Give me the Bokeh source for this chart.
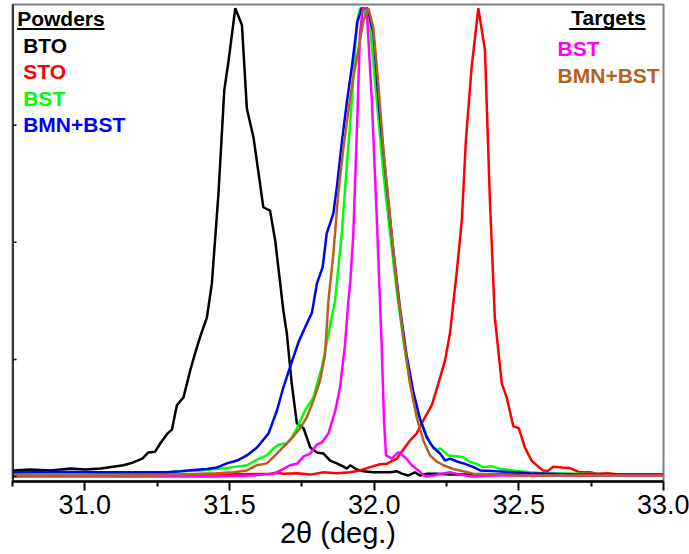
from bokeh.plotting import figure
from bokeh.models import Label, BoxAnnotation, FixedTicker, PrintfTickFormatter, Span
from bokeh.embed import file_html
from bokeh.resources import INLINE

# ---- data (2theta in degrees, normalised intensity) ----
bto_x = [30.750, 30.812, 30.881, 30.950, 31.002, 31.054, 31.098, 31.133, 31.167, 31.199, 31.219, 31.243,
         31.261, 31.286, 31.301, 31.318, 31.341, 31.364, 31.382, 31.399, 31.422, 31.439, 31.462, 31.482,
         31.497, 31.520, 31.543, 31.560, 31.583, 31.617, 31.640, 31.658, 31.686, 31.698, 31.715, 31.733,
         31.756, 31.779, 31.802, 31.825, 31.848, 31.871, 31.894, 31.906, 31.917, 31.940, 31.963, 31.996,
         32.055, 32.079, 32.096, 32.117, 32.141, 32.158, 32.183, 32.217, 32.262, 32.365, 32.503, 32.642,
         32.780, 32.998]
bto_y = [0.013, 0.015, 0.013, 0.017, 0.015, 0.017, 0.021, 0.024, 0.030, 0.038, 0.051, 0.053,
         0.071, 0.092, 0.100, 0.152, 0.169, 0.226, 0.265, 0.299, 0.340, 0.412, 0.605, 0.825,
         0.889, 1.000, 0.964, 0.786, 0.724, 0.575, 0.568, 0.504, 0.355, 0.306, 0.199, 0.113,
         0.103, 0.062, 0.051, 0.049, 0.034, 0.028, 0.021, 0.017, 0.024, 0.015, 0.011, 0.009,
         0.009, 0.011, 0.006, 0.002, 0.009, 0.002, 0.006, 0.006, 0.004, 0.004, 0.004, 0.004,
         0.004, 0.004]

sto_x = [30.750, 30.985, 31.226, 31.456, 31.641, 31.664, 31.686, 31.733, 31.779, 31.825, 31.871, 31.917,
         31.951, 31.986, 32.020, 32.043, 32.078, 32.107, 32.124, 32.147, 32.176, 32.199, 32.222, 32.245,
         32.262, 32.285, 32.303, 32.317, 32.337, 32.360, 32.383, 32.400, 32.417, 32.441, 32.458, 32.481,
         32.500, 32.521, 32.544, 32.567, 32.584, 32.601, 32.619, 32.649, 32.677, 32.711, 32.746, 32.770,
         32.804, 32.849, 32.998]
sto_y = [0.002, 0.002, 0.004, 0.004, 0.006, 0.008, 0.006, 0.007, 0.004, 0.009, 0.007, 0.009,
         0.013, 0.020, 0.026, 0.027, 0.038, 0.063, 0.077, 0.092, 0.127, 0.152, 0.199, 0.248,
         0.306, 0.434, 0.547, 0.718, 0.875, 1.000, 0.910, 0.590, 0.340, 0.199, 0.169, 0.107,
         0.103, 0.062, 0.034, 0.021, 0.013, 0.012, 0.021, 0.019, 0.018, 0.009, 0.009, 0.006,
         0.007, 0.004, 0.004]

bst_x = [30.750, 31.054, 31.226, 31.284, 31.341, 31.399, 31.456, 31.514, 31.560, 31.595, 31.629, 31.652,
         31.669, 31.698, 31.715, 31.733, 31.761, 31.790, 31.819, 31.836, 31.865, 31.888, 31.905, 31.923,
         31.940, 31.951, 31.965, 31.986, 32.009, 32.032, 32.055, 32.078, 32.101, 32.124, 32.147, 32.170,
         32.193, 32.216, 32.228, 32.256, 32.285, 32.308, 32.331, 32.354, 32.377, 32.406, 32.435, 32.458,
         32.492, 32.538, 32.596, 32.711, 32.825, 32.998]
bst_y = [0.006, 0.006, 0.007, 0.009, 0.011, 0.013, 0.016, 0.020, 0.024, 0.036, 0.045, 0.060,
         0.068, 0.071, 0.083, 0.103, 0.141, 0.169, 0.233, 0.286, 0.376, 0.519, 0.660, 0.803,
         0.968, 1.000, 0.996, 0.959, 0.803, 0.647, 0.519, 0.397, 0.291, 0.199, 0.141, 0.105,
         0.071, 0.056, 0.060, 0.045, 0.043, 0.041, 0.031, 0.027, 0.020, 0.022, 0.016, 0.015,
         0.012, 0.009, 0.007, 0.006, 0.005, 0.004]

bmn_x = [30.750, 30.915, 31.054, 31.238, 31.284, 31.330, 31.376, 31.422, 31.456, 31.491, 31.526, 31.560,
         31.595, 31.635, 31.664, 31.686, 31.709, 31.738, 31.761, 31.785, 31.802, 31.822, 31.836, 31.848,
         31.859, 31.871, 31.888, 31.905, 31.923, 31.942, 31.957, 31.977, 31.997, 32.020, 32.044, 32.066,
         32.089, 32.112, 32.135, 32.158, 32.181, 32.204, 32.228, 32.245, 32.262, 32.291, 32.314, 32.343,
         32.366, 32.423, 32.481, 32.538, 32.711, 32.998]
bmn_y = [0.009, 0.010, 0.009, 0.009, 0.009, 0.011, 0.014, 0.016, 0.019, 0.028, 0.034, 0.045,
         0.062, 0.092, 0.141, 0.190, 0.233, 0.286, 0.318, 0.350, 0.412, 0.447, 0.519, 0.541,
         0.562, 0.618, 0.712, 0.797, 0.875, 0.971, 1.000, 1.000, 0.947, 0.767, 0.618, 0.483,
         0.361, 0.259, 0.182, 0.124, 0.084, 0.062, 0.049, 0.034, 0.038, 0.031, 0.027, 0.020,
         0.013, 0.011, 0.009, 0.007, 0.004, 0.004]

tbst_x = [30.750, 31.226, 31.456, 31.571, 31.617, 31.652, 31.669, 31.686, 31.709, 31.733, 31.756, 31.779,
          31.802, 31.819, 31.842, 31.865, 31.882, 31.899, 31.911, 31.917, 31.928, 31.940, 31.951, 31.961,
          31.974, 31.992, 32.009, 32.026, 32.034, 32.041, 32.061, 32.084, 32.107, 32.130, 32.153, 32.176,
          32.204, 32.233, 32.262, 32.296, 32.342, 32.423, 32.998]
tbst_y = [0.000, 0.000, 0.000, 0.002, 0.004, 0.006, 0.011, 0.016, 0.024, 0.027, 0.043, 0.049,
          0.068, 0.073, 0.092, 0.139, 0.190, 0.280, 0.376, 0.412, 0.519, 0.733, 0.947, 1.000,
          1.000, 0.803, 0.553, 0.280, 0.120, 0.045, 0.038, 0.052, 0.041, 0.024, 0.013, 0.000,
          0.002, 0.006, 0.009, 0.004, 0.000, 0.002, 0.002]

tbmn_x = [30.750, 31.226, 31.341, 31.399, 31.456, 31.514, 31.560, 31.595, 31.629, 31.664, 31.686, 31.709,
          31.744, 31.767, 31.790, 31.813, 31.830, 31.842, 31.859, 31.876, 31.894, 31.911, 31.928, 31.945,
          31.963, 31.980, 31.997, 32.014, 32.032, 32.055, 32.078, 32.101, 32.124, 32.147, 32.170, 32.193,
          32.216, 32.239, 32.273, 32.308, 32.343, 32.423, 32.538, 32.998]
tbmn_y = [0.002, 0.002, 0.004, 0.006, 0.007, 0.009, 0.013, 0.024, 0.028, 0.049, 0.063, 0.077,
          0.103, 0.126, 0.162, 0.205, 0.259, 0.376, 0.476, 0.605, 0.703, 0.782, 0.853, 0.910,
          0.974, 1.000, 0.959, 0.840, 0.697, 0.553, 0.412, 0.297, 0.199, 0.126, 0.077, 0.045,
          0.032, 0.024, 0.016, 0.011, 0.006, 0.004, 0.002, 0.002]

x_ticks = [31.0, 31.5, 32.0, 32.5, 33.0]
x_minor = [30.75, 31.25, 31.75, 32.25, 32.75]
y_ticks = [0.0, 0.25, 0.5, 0.75]

BROWN = "#B5621E"
X0, X1 = 30.75, 33.0
Y0, Y1 = -0.0107, 1.008

p = figure(width=689, height=554, x_range=(X0, X1), y_range=(Y0, Y1),
           output_backend="svg", toolbar_location=None,
           min_border_left=12, min_border_right=26, min_border_top=4, min_border_bottom=73)
p.background_fill_color = "white"
p.border_fill_color = "white"
p.grid.visible = False
p.outline_line_color = "#7f7f7f"
p.outline_line_width = 2
p.yaxis.visible = False

LW = 2.5
p.line(bto_x, bto_y, line_color="black", line_width=LW)
p.line(sto_x, sto_y, line_color="#FF0000", line_width=LW)
p.line(bst_x, bst_y, line_color="#00FF00", line_width=LW)
p.line(bmn_x, bmn_y, line_color="#0000FF", line_width=LW)
p.line(tbst_x, tbst_y, line_color="#FF00FF", line_width=LW)
p.line(tbmn_x, tbmn_y, line_color=BROWN, line_width=LW)

# left spine + small inward ticks (no labels in the reference)
p.add_layout(Span(location=X0, dimension="height", line_color="black", line_width=2.5))
for t in y_ticks:
    p.add_layout(BoxAnnotation(left=X0, right=X0 + 0.014, bottom=t - 0.0016, top=t + 0.0016,
                               fill_color="black", fill_alpha=1.0, line_color=None))

# x axis
xa = p.xaxis[0]
xa.ticker = FixedTicker(ticks=x_ticks, minor_ticks=x_minor)
xa.formatter = PrintfTickFormatter(format="%.1f")
xa.axis_line_width = 2.5
xa.axis_line_color = "black"
xa.major_tick_in = 0
xa.major_tick_out = 9
xa.minor_tick_in = 0
xa.minor_tick_out = 5
xa.major_tick_line_width = 2
xa.minor_tick_line_width = 2
xa.major_label_text_font = "Liberation Sans"
xa.major_label_text_font_size = "27px"
xa.major_label_text_color = "black"
xa.major_label_standoff = 4
xa.axis_label = "2θ (deg.)"
xa.axis_label_text_font = "Liberation Sans"
xa.axis_label_text_font_size = "29px"
xa.axis_label_text_font_style = "normal"
xa.axis_label_text_color = "black"
xa.axis_label_standoff = 0

# text legends
FONT = "Liberation Sans"
def lab(x, y, text, color, align="left"):
    p.add_layout(Label(x=x, y=y, text=text, text_color=color, text_font=FONT,
                       text_font_size="21px", text_font_style="bold",
                       text_align=align, text_baseline="alphabetic"))

DY = 0.016
lab(30.766, 0.9615 + DY, "Powders", "black")
lab(30.787, 0.905 + DY, "BTO", "black")
lab(30.787, 0.848 + DY, "STO", "#FF0000")
lab(30.787, 0.791 + DY, "BST", "#00FF00")
lab(30.787, 0.735 + DY, "BMN+BST", "#0000FF")
lab(32.938, 0.9637 + DY, "Targets", "black", align="right")
lab(32.634, 0.897 + DY, "BST", "#FF00FF")
lab(32.634, 0.840 + DY, "BMN+BST", BROWN)

# underlines
p.add_layout(BoxAnnotation(left=30.766, right=31.068, top=0.9577, bottom=0.9534,
                           fill_color="black", fill_alpha=1.0, line_color=None))
p.add_layout(BoxAnnotation(left=32.674, right=32.938, top=0.9577, bottom=0.9534,
                           fill_color="black", fill_alpha=1.0, line_color=None))

open("out.html", "w").write(file_html(p, INLINE))
